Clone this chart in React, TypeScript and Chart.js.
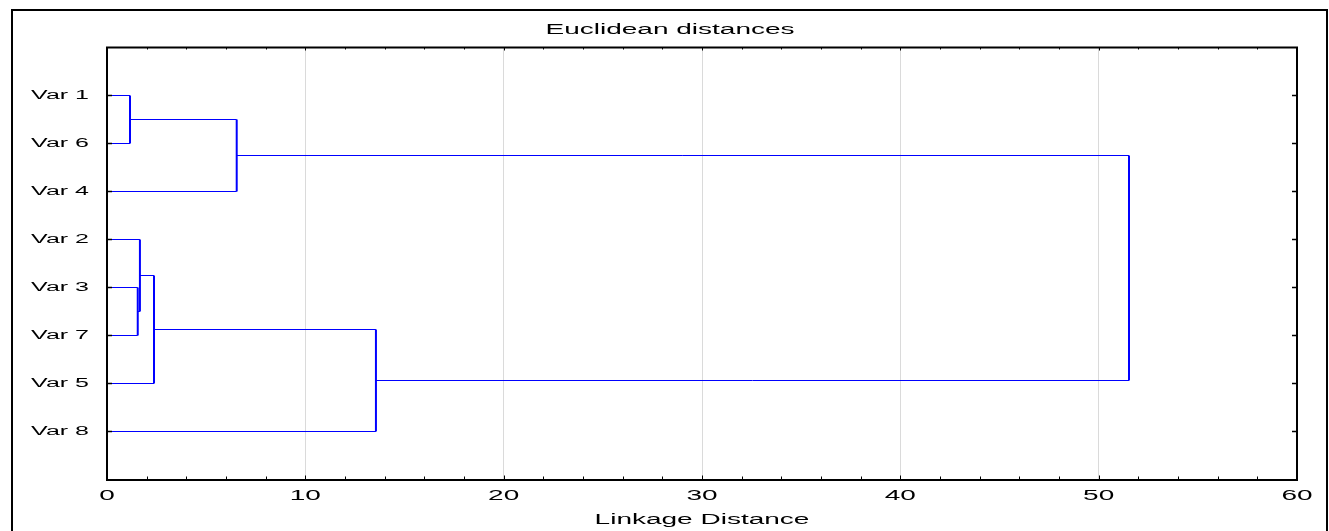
import React, { useEffect, useRef } from 'react';
import { Chart, registerables } from 'chart.js';

Chart.register(...registerables);

// Leaf order as displayed (top to bottom)
const leaves = ['Var 1', 'Var 6', 'Var 4', 'Var 2', 'Var 3', 'Var 7', 'Var 5', 'Var 8'];
// Merge steps: ids < 8 are leaves (display index), ids >= 8 are earlier merges (8 + step)
const mergeLeft = [0, 4, 3, 10, 8, 11, 12];
const mergeRight = [1, 5, 9, 6, 2, 7, 13];
const mergeHeight = [1.16, 1.55, 1.66, 2.37, 6.54, 13.56, 51.53];
const xTickValues = [0, 10, 20, 30, 40, 50, 60];
const chartTitle = 'Euclidean distances';
const xAxisTitle = 'Linkage Distance';

const FONT = "'Liberation Sans', Arial, Helvetica, sans-serif";
const TEXT_STRETCH = 2.0; // the reference text is horizontally widened

function buildLinks() {
  const pos: number[] = leaves.map((_, i) => i);
  const height: number[] = leaves.map(() => 0);
  const links: { x: number; y: number }[][] = [];
  mergeHeight.forEach((h, k) => {
    const a = mergeLeft[k];
    const b = mergeRight[k];
    links.push([
      { x: height[a], y: pos[a] },
      { x: h, y: pos[a] },
      { x: h, y: pos[b] },
      { x: height[b], y: pos[b] },
    ]);
    pos.push((pos[a] + pos[b]) / 2);
    height.push(h);
  });
  return links;
}

const stretchTextPlugin = {
  id: 'stretchText',
  beforeDraw(chart: any) {
    const ctx: any = chart.ctx;
    if (ctx.__stretchWrapped) return;
    const orig = ctx.fillText;
    ctx.fillText = function (text: string, x: number, y: number, maxWidth?: number) {
      this.save();
      this.translate(x, y);
      this.scale(TEXT_STRETCH, 1);
      if (maxWidth !== undefined) orig.call(this, text, 0, 0, maxWidth / TEXT_STRETCH);
      else orig.call(this, text, 0, 0);
      this.restore();
    };
    ctx.__stretchWrapped = true;
  },
};

const framePlugin = {
  id: 'frame',
  afterDatasetsDraw(chart: any) {
    const { ctx, chartArea, scales } = chart;
    const { left, right, top, bottom } = chartArea;
    const x = scales.x;
    const y = scales.y;
    ctx.save();
    ctx.strokeStyle = '#000';
    ctx.lineWidth = 2;
    ctx.beginPath();
    ctx.moveTo(left - 1, top);
    ctx.lineTo(right + 1, top);
    ctx.moveTo(right, top - 1);
    ctx.lineTo(right, bottom + 1);
    ctx.stroke();
    ctx.lineWidth = 1;
    for (let v = 0; v <= 60; v += 2) {
      const px = Math.round(x.getPixelForValue(v)) + 0.5;
      const len = v % 10 === 0 ? 4 : 3;
      ctx.beginPath();
      ctx.moveTo(px, bottom);
      ctx.lineTo(px, bottom - len);
      ctx.moveTo(px, top);
      ctx.lineTo(px, top + len - 1);
      ctx.stroke();
    }
    ctx.lineWidth = 1.5;
    leaves.forEach((_, i) => {
      const py = y.getPixelForValue(i);
      ctx.beginPath();
      ctx.moveTo(left, py);
      ctx.lineTo(left + 5, py);
      ctx.moveTo(right, py);
      ctx.lineTo(right - 5, py);
      ctx.stroke();
    });
    ctx.restore();
  },
};

export default function App() {
  const canvasRef = useRef<HTMLCanvasElement | null>(null);

  useEffect(() => {
    const canvas = canvasRef.current;
    if (!canvas) return;
    const links = buildLinks();
    const chart = new Chart(canvas, {
      type: 'scatter',
      data: {
        datasets: links.map((pts) => ({
          data: pts,
          showLine: true,
          borderColor: '#0000ff',
          borderWidth: 1,
          pointRadius: 0,
          fill: false,
          tension: 0,
          segment: {
            borderWidth: (c: any) => (c.p0.parsed.x === c.p1.parsed.x ? 2 : 1),
          },
        })),
      },
      options: {
        responsive: false,
        animation: false,
        events: [],
        layout: { padding: { left: 11, right: 0, top: 0, bottom: 0 } },
        plugins: {
          legend: { display: false },
          tooltip: { enabled: false },
          title: {
            display: true,
            text: chartTitle,
            color: '#000',
            font: { family: FONT, size: 14, weight: 'normal' },
            padding: { top: 22, bottom: 8.7 },
          },
        },
        scales: {
          x: {
            type: 'linear',
            position: 'bottom',
            min: 0,
            max: 60,
            afterBuildTicks: (s: any) => {
              s.ticks = xTickValues.map((v) => ({ value: v }));
            },
            ticks: {
              color: '#000',
              font: { family: FONT, size: 14 },
              padding: 8,
              maxRotation: 0,
              autoSkip: false,
            },
            grid: { color: '#dadada', lineWidth: 1, drawTicks: false },
            border: { display: true, color: '#000', width: 2 },
            title: {
              display: true,
              text: xAxisTitle,
              color: '#000',
              font: { family: FONT, size: 14 },
              padding: { top: 0, bottom: 2 },
            },
            afterFit: (s: any) => {
              s.height = 51.5;
            },
          },
          y: {
            type: 'linear',
            min: -1,
            max: 8,
            reverse: true,
            afterBuildTicks: (s: any) => {
              s.ticks = leaves.map((_, i) => ({ value: i }));
            },
            ticks: {
              color: '#000',
              font: { family: FONT, size: 12.5 },
              padding: 18,
              autoSkip: false,
              callback: (v: any) => leaves[Math.round(Number(v))] ?? '',
            },
            grid: { drawOnChartArea: false, drawTicks: false },
            border: { display: true, color: '#000', width: 2 },
            afterFit: (s: any) => {
              s.width = 96;
            },
          },
          yRight: {
            type: 'linear',
            position: 'right',
            min: 0,
            max: 1,
            ticks: { display: false },
            grid: { display: false, drawOnChartArea: false, drawTicks: false },
            border: { display: false },
            afterFit: (s: any) => {
              s.width = 32;
            },
          },
        },
      } as any,
      plugins: [stretchTextPlugin, framePlugin],
    });
    return () => chart.destroy();
  }, []);

  return (
    <div
      style={{
        position: 'fixed',
        left: 0,
        top: 0,
        width: 1329,
        height: 531,
        overflow: 'hidden',
        background: '#fff',
      }}
    >
      <canvas
        ref={canvasRef}
        width={1329}
        height={531}
        style={{ position: 'absolute', left: 0, top: 0, width: '1329px', height: '531px' }}
      />
      <div
        style={{
          position: 'absolute',
          left: 11,
          top: 9,
          width: 1317,
          height: 560,
          border: '2px solid #000',
          boxSizing: 'border-box',
          pointerEvents: 'none',
        }}
      />
    </div>
  );
}
